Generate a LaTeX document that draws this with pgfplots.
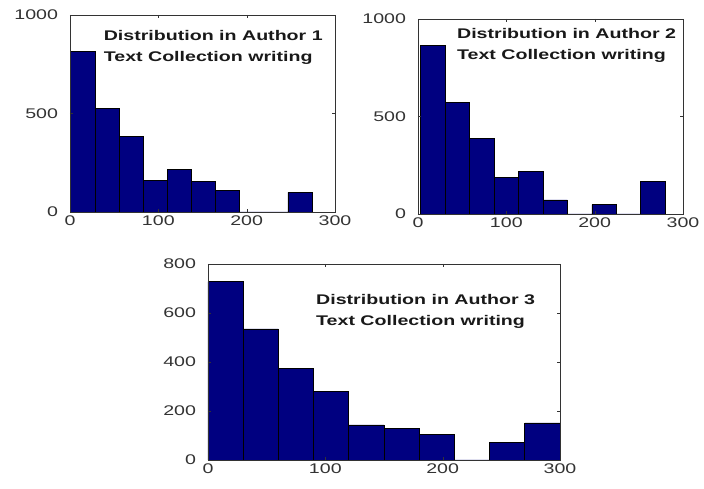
\documentclass[border=0pt]{standalone}
\usepackage{fontspec}
\setmainfont{Liberation Sans}
\usepackage{pgfplots}
\pgfplotsset{compat=1.18}
\definecolor{navy}{RGB}{0,0,128}
\pgfplotsset{hist/.style={
  scale only axis,
  xmin=0, xmax=300, ymin=0,
  xtick={0,100,200,300},
  tick align=inside,
  major tick length=3pt,
  axis line style={black!80, line width=0.8pt},
  tick style={black!80},
  tick label style={font=\fontsize{14}{16}\selectfont, text=black!80, xscale=1.4},
  /pgf/number format/assume math mode=true,
  /pgf/number format/1000 sep={},
  yticklabel style={xshift=-5pt},
  axis on top,
}}
\tikzset{ttl/.style={anchor=north west, align=left, inner sep=0pt, xscale=1.4,
  font=\fontsize{14}{21.5}\selectfont\bfseries, text=black!90}}
\begin{document}
\begin{tikzpicture}
\path (0pt,0pt) rectangle (704pt,-489pt);
% Panel 1
\begin{axis}[hist, at={(70pt,-15pt)}, anchor=north west, width=265pt, height=197pt,
  ymax=1000, ytick={0,500,1000}]
\addplot[ybar interval, fill=navy, draw=black, line width=0.8pt] coordinates {
(1,814) (28.3,526) (55.6,382) (82.9,162) (110.2,218) (137.5,154) (164.8,108) (192.1,0) (219.4,0) (246.7,100) (274,0)};
\node[ttl] at (axis cs:38,925) {Distribution in Author 1\\Text Collection writing};
\end{axis}
% Panel 2
\begin{axis}[hist, at={(418pt,-19pt)}, anchor=north west, width=265pt, height=195pt,
  ymax=1000, ytick={0,500,1000}]
\addplot[ybar interval, fill=navy, draw=black, line width=0.8pt] coordinates {
(3,863) (30.7,573) (58.4,388) (86.1,186) (113.8,217) (141.5,72) (169.2,0) (196.9,48) (224.6,0) (252.3,166) (280,0)};
\node[ttl] at (axis cs:44,954) {Distribution in Author 2\\Text Collection writing};
\end{axis}
% Panel 3
\begin{axis}[hist, at={(208pt,-264pt)}, anchor=north west, width=352pt, height=196pt,
  ymax=800, ytick={0,200,400,600,800}]
\addplot[ybar interval, fill=navy, draw=black, line width=0.8pt] coordinates {
(0,728) (30,535) (60,374) (90,279) (120,143) (150,129) (180,105) (210,0) (240,72) (270,151) (300,0)};
\node[ttl] at (axis cs:92,677) {Distribution in Author 3\\Text Collection writing};
\end{axis}
\end{tikzpicture}
\end{document}
